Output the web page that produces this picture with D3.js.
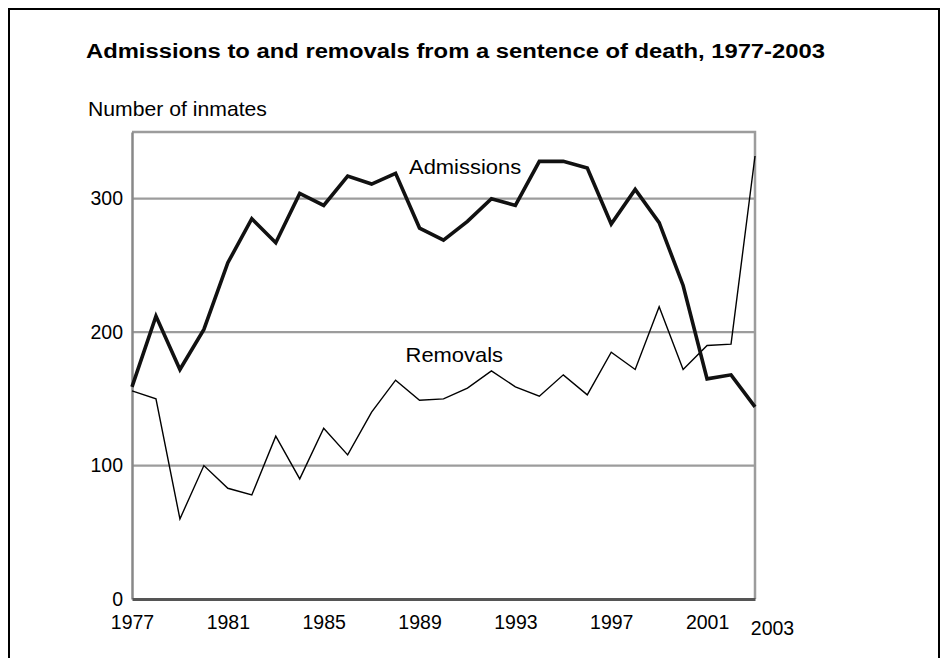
<!DOCTYPE html>
<html>
<head>
<meta charset="utf-8">
<script src="https://cdn.jsdelivr.net/npm/d3@7"></script>
<style>
  html, body { margin: 0; padding: 0; background: #fff; }
  svg { display: block; font-family: "Liberation Sans", Arial, Helvetica, sans-serif; }
</style>
</head>
<body>
<svg id="chart" width="948" height="658"></svg>
<script>
const years = d3.range(1977, 2004);
const admissions = [159, 212, 172, 202, 252, 285, 267, 304, 295, 317, 311, 319, 278, 269, 283, 300, 295, 328, 328, 323, 281, 307, 282, 235, 165, 168, 144];
const removals = [156, 150, 60, 100, 83, 78, 122, 90, 128, 108, 140, 164, 149, 150, 158, 171, 159, 152, 168, 153, 185, 172, 219, 172, 190, 191, 332];
const xTickYears = [1977, 1981, 1985, 1989, 1993, 1997, 2001, 2003];
const yTickValues = [0, 100, 200, 300];
const gridValues = [100, 200, 300];
const titleText = "Admissions to and removals from a sentence of death, 1977-2003";
const yAxisTitle = "Number of inmates";
const seriesLabels = [
  { name: "Admissions", year: 1990.9, value: 318.75 },
  { name: "Removals", year: 1990.45, value: 177.75 }
];

const svg = d3.select("#chart");
const W = 948, H = 658;
const margin = { left: 132, right: 948 - 755, top: 132, bottom: 658 - 599 };

const x = d3.scaleLinear().domain([1977, 2003]).range([margin.left, W - margin.right]);
const y = d3.scaleLinear().domain([0, 350]).range([H - margin.bottom, margin.top]);

// outer page frame
svg.append("path")
  .attr("d", `M9,${H} V9 H939 V${H}`)
  .attr("fill", "none")
  .attr("stroke", "#000")
  .attr("stroke-width", 2);

// title (glyphs stretched horizontally to match reference proportions)
const title = svg.append("text")
  .attr("transform", "translate(86,57.5) scale(1.19,1)")
  .attr("font-size", 20).attr("font-weight", "bold")
  .text(titleText);

svg.append("text")
  .attr("transform", "translate(88,115.5) scale(1.06,1)")
  .attr("font-size", 20)
  .text(yAxisTitle);

// gridlines
svg.append("g").selectAll("line").data(gridValues).join("line")
  .attr("x1", x(1977)).attr("x2", x(2003))
  .attr("y1", d => y(d)).attr("y2", d => y(d))
  .attr("stroke", "#9c9c9c").attr("stroke-width", 2.2);

// top and right frame of plot
svg.append("path")
  .attr("d", `M${x(1977)},${y(350)} H${x(2003)} V${y(0)}`)
  .attr("fill", "none").attr("stroke", "#9c9c9c").attr("stroke-width", 2.5);

// y axis
const yAxis = d3.axisLeft(y).tickValues(yTickValues).tickSize(0).tickPadding(9).tickFormat(d3.format("d"));
const gy = svg.append("g").attr("transform", `translate(${x(1977)},0)`).call(yAxis);
gy.select(".domain").attr("stroke", "#888").attr("stroke-width", 2.5);
gy.selectAll("text").attr("font-size", 19.5).attr("fill", "#000").attr("font-family", "Liberation Sans, Arial, sans-serif");

// x axis
const xAxis = d3.axisBottom(x).tickValues(xTickYears).tickSize(0).tickPadding(16).tickFormat(d3.format("d"));
const gx = svg.append("g").attr("transform", `translate(0,${y(0)})`).call(xAxis);
gx.select(".domain").attr("stroke", "#555").attr("stroke-width", 3);
gx.selectAll("text").attr("font-size", 19.5).attr("fill", "#000").attr("font-family", "Liberation Sans, Arial, sans-serif");
gx.selectAll(".tick").filter(d => d === 2003).select("text")
  .attr("dx", 17).attr("dy", "1.0em");

// lines
const line = d3.line().x((d, i) => x(years[i])).y(d => y(d));
svg.append("path").datum(removals)
  .attr("d", line).attr("fill", "none")
  .attr("stroke", "#000").attr("stroke-width", 1.4).attr("stroke-linejoin", "miter");
svg.append("path").datum(admissions)
  .attr("d", line).attr("fill", "none")
  .attr("stroke", "#111").attr("stroke-width", 3.6).attr("stroke-linejoin", "miter");

// series labels
svg.append("g").selectAll("text").data(seriesLabels).join("text")
  .attr("transform", d => `translate(${x(d.year)},${y(d.value)}) scale(1.07,1)`)
  .attr("text-anchor", "middle")
  .attr("font-size", 20.5)
  .text(d => d.name);
</script>
</body>
</html>
